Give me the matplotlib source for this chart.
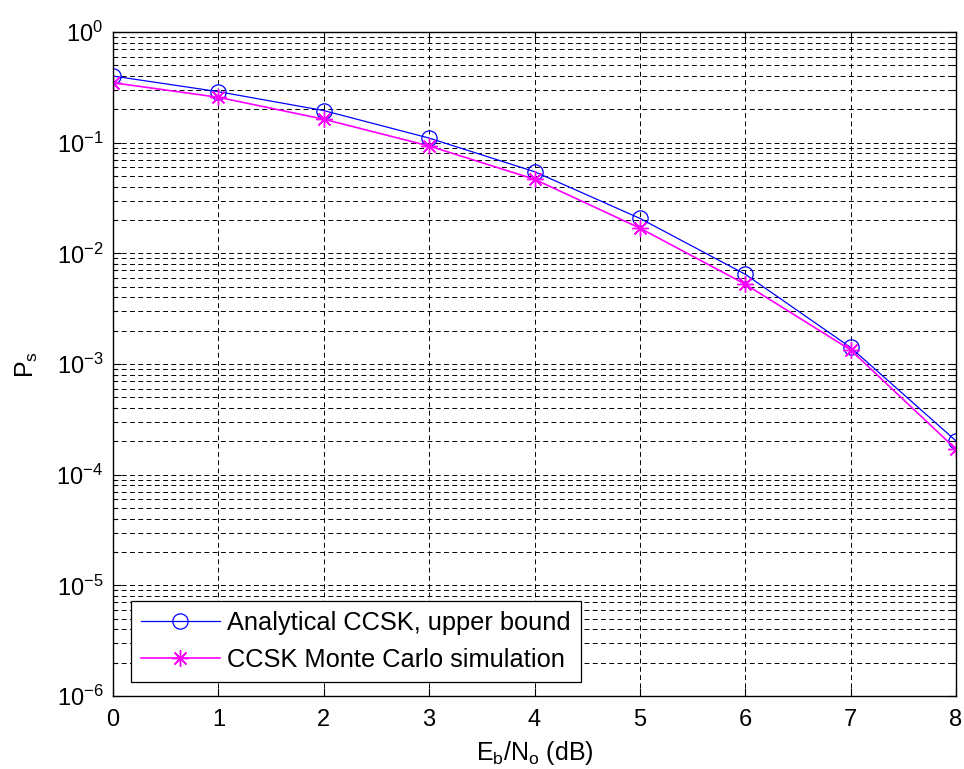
import numpy as np
import matplotlib
matplotlib.use("Agg")
import matplotlib.pyplot as plt
from matplotlib.ticker import LogLocator, NullFormatter, FuncFormatter

# Eb/No in dB and symbol error probability
ebno_db = [0, 1, 2, 3, 4, 5, 6, 7, 8]
ps_analytical = [0.40, 0.289, 0.195, 0.110, 0.0547, 0.0207, 0.00647, 0.00141, 2.02e-4]
ps_montecarlo = [0.348, 0.257, 0.163, 0.0933, 0.0467, 0.0169, 0.00526, 0.00134, 1.70e-4]

plt.rcParams['font.family'] = ['Liberation Sans', 'DejaVu Sans']
plt.rcParams['mathtext.fontset'] = 'custom'
plt.rcParams['mathtext.rm'] = 'Liberation Sans'
plt.rcParams['mathtext.it'] = 'Liberation Sans'

fig = plt.figure(figsize=(9.64, 7.69), dpi=100)
ax = fig.add_axes([113 / 964, 1 - 696 / 769, (956 - 113) / 964, (696 - 32) / 769])

ax.semilogy(ebno_db, ps_analytical, color="blue", lw=0.9, marker="o", ms=11,
            mfc="none", mec="blue", mew=0.9, label="Analytical CCSK, upper bound")
ax.semilogy(ebno_db, ps_montecarlo, color="magenta", lw=1.2, marker=(8, 2, 0), ms=12,
            mfc="magenta", mec="magenta", mew=1.0, label="CCSK Monte Carlo simulation")

ax.set_xlim(0, 8)
ax.set_ylim(1e-6, 1)
ax.set_xticks(range(0, 9))
ax.yaxis.set_major_locator(LogLocator(base=10, numticks=10))
ax.yaxis.set_minor_locator(LogLocator(base=10, subs=np.arange(2, 10), numticks=20))
ax.yaxis.set_minor_formatter(NullFormatter())
ax.yaxis.set_major_formatter(FuncFormatter(
    lambda v, p: r"$\mathregular{10^{%d}}$" % round(np.log10(v))))

dash = (0, (5, 3.5))
ax.grid(True, which="major", axis="both", color="black", ls=dash, lw=0.7)
ax.grid(True, which="minor", axis="y", color="black", ls=dash, lw=0.7)

ax.tick_params(which="both", direction="in", top=True, right=True, labelsize=17)
ax.tick_params(which="major", length=6, width=0.8)
ax.tick_params(which="minor", length=3, width=0.8)
ax.tick_params(axis="x", pad=9)
ax.tick_params(axis="y", pad=7)
for s in ax.spines.values():
    s.set_linewidth(1.0)

ax.set_xlabel(r"E$_\mathregular{b}$/N$_\mathregular{o}$ (dB)", fontsize=18, labelpad=6)
ax.set_ylabel(r"P$_\mathregular{s}$", fontsize=18, labelpad=12)

leg = ax.legend(loc="lower left", bbox_to_anchor=(0.021, 0.021), fontsize=18.3,
                fancybox=False, framealpha=1, edgecolor="black",
                handlelength=3.1, handletextpad=0.3, borderpad=0.4,
                labelspacing=0.5, borderaxespad=0.0)
leg.get_frame().set_linewidth(0.9)

fig.savefig("out.png", dpi=100)
